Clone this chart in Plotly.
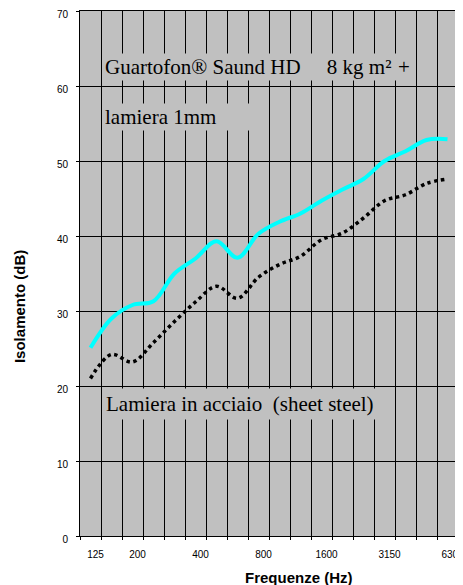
import plotly.graph_objects as go

# ---- data ----
categories = ["125", "160", "200", "250", "315", "400", "500", "630", "800",
              "1000", "1250", "1600", "2000", "2500", "3150", "4000", "5000", "6300"]
guartofon_db = [25.1, 29.0, 30.8, 31.3, 35.0, 37.0, 39.3, 37.1, 40.3, 41.9,
                43.0, 44.7, 46.2, 47.6, 50.0, 51.3, 52.8, 52.9]
steel_db = [21.0, 24.2, 23.2, 25.8, 28.6, 31.2, 33.3, 31.7, 34.5, 36.2,
            37.3, 39.5, 40.4, 42.4, 44.7, 45.5, 47.0, 47.6]
tick_labels = ["125", "200", "400", "800", "1600", "3150", "6300"]
y_ticks = [0, 10, 20, 30, 40, 50, 60, 70]

idx = list(range(len(categories)))
tick_idx = [categories.index(t) for t in tick_labels]

# page is 463x585; the html body has an 8px default margin
OFF = 8
W, H = 463 - OFF, 585 - OFF
PL, PR, PT, PB = 80, 458.3, 11, 536   # plot area in page pixels
ML, MR, MT, MB = PL - OFF, 463 - PR, PT - OFF, 585 - PB


def px(xp):  # page x pixel -> paper
    return (xp - PL) / (PR - PL)


def py(yp):  # page y pixel -> paper
    return (PB - yp) / (PB - PT)


fig = go.Figure()
fig.add_trace(go.Scatter(x=idx, y=steel_db, mode="lines",
                         line=dict(color="black", width=3.5, dash="dot", shape="spline"),
                         showlegend=False, hoverinfo="skip"))
fig.add_trace(go.Scatter(x=idx, y=guartofon_db, mode="lines",
                         line=dict(color="#00FFFF", width=4, shape="spline"),
                         showlegend=False, hoverinfo="skip"))

serif = "Liberation Serif, Times New Roman, serif"
sans = "Liberation Sans, Arial, sans-serif"
box_font = dict(family=serif, size=21, color="black")

fig.update_layout(
    width=W, height=H,
    margin=dict(l=ML, r=MR, t=MT, b=MB, autoexpand=False),
    paper_bgcolor="white",
    plot_bgcolor="#C0C0C0",
    xaxis=dict(
        range=[-0.5, len(categories) - 0.5], automargin=False,
        tickmode="array", tickvals=tick_idx, ticktext=tick_labels,
        ticks="", showgrid=False, zeroline=False,
        ticklabelshift=5, ticklabelstandoff=9, ticklabeloverflow="allow",
        tickfont=dict(family=sans, size=10, color="black"),
        showline=True, linecolor="black", linewidth=1, mirror=True,
        minor=dict(tick0=-0.5, dtick=1, showgrid=True, gridcolor="black",
                   gridwidth=1, ticks="outside", ticklen=3, tickcolor="black"),
    ),
    yaxis=dict(
        range=[0, 70], tickmode="array", tickvals=y_ticks, automargin=False,
        ticks="outside", ticklen=3, tickcolor="black",
        showgrid=True, gridcolor="black", gridwidth=1, zeroline=False,
        ticklabelstandoff=6, ticklabelshift=3, ticklabeloverflow="allow",
        tickfont=dict(family=sans, size=10, color="black"),
        showline=True, linecolor="black", linewidth=1, mirror=True,
    ),
    annotations=[
        dict(text="Frequenze (Hz)", xref="paper", yref="paper",
             x=px(299), y=py(577), xanchor="center", yanchor="middle",
             showarrow=False, font=dict(family=sans, size=15, color="black", weight="bold")),
        dict(text="Isolamento (dB)", xref="paper", yref="paper",
             x=px(19), y=py(307), xanchor="center", yanchor="middle", textangle=-90,
             showarrow=False, font=dict(family=sans, size=15, color="black", weight="bold")),
        dict(text="Guartofon® Saund HD\u00a0\u00a0\u00a0\u00a0\u00a08 kg m²",
             xref="paper", yref="paper", x=px(103), y=py(53),
             xanchor="left", yanchor="top", align="left", width=290,
             bgcolor="#C0C0C0", borderpad=1, showarrow=False, font=box_font),
        dict(text="+", xref="paper", yref="paper", x=px(396), y=py(53),
             xanchor="left", yanchor="top", align="left", borderpad=1,
             showarrow=False, font=box_font),
        dict(text="lamiera 1mm", xref="paper", yref="paper", x=px(103), y=py(103),
             xanchor="left", yanchor="top", align="left", width=144,
             bgcolor="#C0C0C0", borderpad=1, showarrow=False, font=box_font),
        dict(text="Lamiera in acciaio\u00a0\u00a0(sheet steel)", xref="paper", yref="paper",
             x=px(102), y=py(388), xanchor="left", yanchor="top", align="left", width=268,
             bgcolor="#C0C0C0", borderpad=3, showarrow=False, font=box_font),
    ],
)

fig.write_html("out.html")
